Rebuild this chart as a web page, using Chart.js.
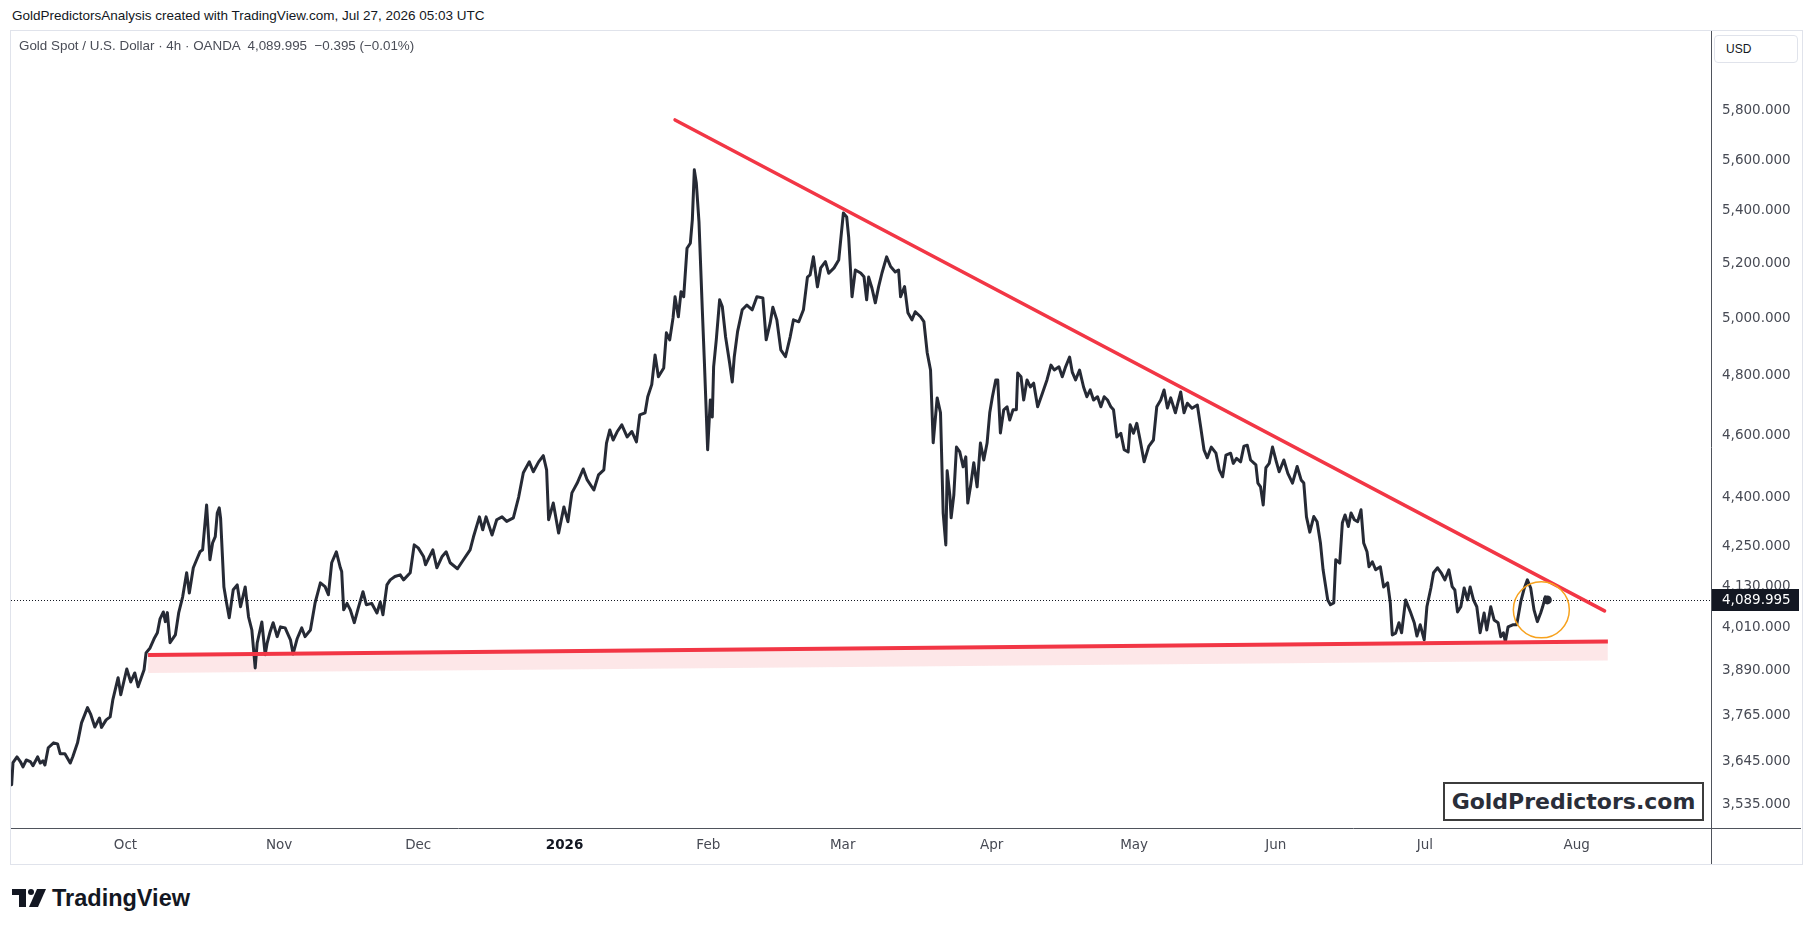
<!DOCTYPE html>
<html>
<head>
<meta charset="utf-8">
<script src="https://cdn.jsdelivr.net/npm/chart.js@4.4.1/dist/chart.umd.min.js"></script>
<style>
html,body{margin:0;padding:0;background:#fff;width:1814px;height:932px;overflow:hidden;}
#hdr{position:absolute;left:12px;top:8px;font:13.5px "Liberation Sans",Arial,sans-serif;color:#131722;line-height:16px;white-space:pre;}
#pane{position:absolute;left:10px;top:30px;width:1793px;height:835px;box-sizing:border-box;border:1px solid #e0e3eb;}
#cv{position:absolute;left:11px;top:31px;}
#legend{position:absolute;left:19px;top:38px;font:13.4px "Liberation Sans",Arial,sans-serif;color:#4a4d57;line-height:16px;white-space:pre;}
#usd{position:absolute;left:1714px;top:35px;width:84px;height:28px;box-sizing:border-box;border:1px solid #e0e3eb;border-radius:4px;background:#fff;font:12px "Liberation Sans",Arial,sans-serif;color:#131722;line-height:26px;padding-left:11px;}
#wm{position:absolute;left:1443px;top:782px;width:261px;height:39px;box-sizing:border-box;border:2px solid #3c3c3c;background:#fff;font:bold 22px "DejaVu Sans",sans-serif;color:#2a2e39;text-align:center;line-height:35px;}
#tv{position:absolute;left:12px;top:886px;height:24px;display:flex;align-items:center;color:#131722;}
#tv span{font:bold 23.5px "Liberation Sans",Arial,sans-serif;margin-left:6px;line-height:24px;}
</style>
</head>
<body>
<div id="hdr">GoldPredictorsAnalysis created with TradingView.com, Jul 27, 2026 05:03 UTC</div>
<div id="pane"></div>
<canvas id="cv" width="1790" height="833"></canvas>
<div id="legend">Gold Spot / U.S. Dollar · 4h · OANDA  4,089.995  −0.395 (−0.01%)</div>
<div id="usd">USD</div>
<div id="wm">GoldPredictors.com</div>
<div id="tv"><svg width="34" height="18" viewBox="0 0 34 18"><path d="M0 0h14v18H7V6H0z" fill="#131722"/><circle cx="19" cy="3" r="3" fill="#131722"/><path d="M25 0h9l-8 18h-9z" fill="#131722"/></svg><span>TradingView</span></div>
<script>
// x unit: trading sessions since the first bar shown (early Sep 2025)
const days = [0.1,0.3,0.9,1.4,1.8,2.3,2.9,3.3,4.0,4.4,4.8,5.1,5.6,6.4,7.0,7.4,8.1,8.9,9.3,10.0,10.6,11.5,12.0,12.6,13.3,13.6,14.3,14.9,15.3,16.1,16.5,17.4,18.0,18.6,19.1,20.0,20.3,20.9,21.5,22.0,22.4,22.9,23.2,23.5,23.9,24.7,25.2,25.8,26.4,26.8,27.4,27.9,28.4,28.8,29.4,29.9,30.3,30.7,31.0,31.3,31.5,32.0,32.4,32.8,33.4,34.0,34.5,35.2,35.7,36.2,36.7,37.0,37.7,38.2,38.5,38.9,39.4,40.0,40.5,41.2,42.0,42.4,43.0,43.7,44.2,45.0,45.7,46.5,47.2,47.7,48.2,48.9,49.5,49.7,50.0,50.5,51.0,51.6,52.2,52.9,53.4,54.2,55.0,55.5,55.9,56.5,57.0,57.7,58.5,59.0,60.0,60.6,61.2,62.0,62.3,63.4,64.0,64.8,65.4,66.0,67.1,68.0,69.0,69.5,70.4,70.9,71.4,72.3,73.0,73.8,74.5,75.5,76.3,77.0,77.9,78.5,79.3,80.0,80.5,80.8,81.5,82.3,83.1,83.7,84.3,85.1,86.0,86.6,87.6,88.3,89.1,89.5,90.0,90.5,91.1,91.8,92.6,93.3,94.0,94.5,95.3,95.7,96.3,96.8,97.3,98.1,98.5,99.0,99.5,99.8,100.3,100.7,101.1,101.6,102.1,102.4,102.7,103.0,103.4,103.9,104.2,104.7,105.1,105.4,105.6,106.0,106.5,106.9,107.4,108.0,108.4,108.7,109.2,109.9,110.6,111.4,112.1,113.0,113.5,114.1,114.5,115.1,115.7,116.4,117.1,117.6,118.4,119.1,119.7,120.1,120.6,121.2,121.7,122.4,122.9,123.7,124.4,125.1,125.6,125.9,126.4,126.9,127.7,128.2,128.6,128.9,129.4,129.9,130.4,130.9,131.6,132.2,132.9,133.4,133.7,134.3,134.8,135.4,135.9,136.7,137.2,137.7,138.2,138.6,139.2,139.7,140.1,140.5,140.7,141.1,141.3,141.7,142.1,142.6,143.1,143.5,143.8,144.2,144.7,145.2,145.7,146.2,146.7,147.1,147.5,148.0,148.3,148.7,149.2,149.7,150.1,150.6,151.1,151.3,151.8,152.2,152.7,153.2,153.7,154.3,155.0,155.7,156.3,156.8,157.5,158.0,158.5,159.1,159.5,160.0,160.6,161.2,161.7,162.2,162.7,163.3,163.8,164.3,164.8,165.3,165.7,166.2,166.8,167.3,167.9,168.2,168.7,169.2,169.7,170.3,171.0,171.7,172.2,172.8,173.3,173.8,174.3,175.0,175.8,176.3,176.8,177.5,178.3,178.8,179.3,179.8,180.4,181.1,181.6,182.1,182.6,183.3,183.7,184.2,184.8,185.3,185.8,186.3,187.1,187.4,187.8,188.2,188.6,189.1,189.6,190.1,190.6,191.3,191.9,192.6,193.3,193.9,194.3,194.7,195.2,195.8,196.3,196.8,197.2,197.9,198.3,198.8,199.1,199.7,200.1,200.5,201.0,201.4,201.9,202.4,202.9,203.3,203.8,204.1,204.6,205.1,205.8,206.3,206.9,207.3,207.6,208.1,208.6,209.0,209.6,210.3,210.9,211.3,211.8,212.4,212.8,213.4,213.8,214.4,215.0,215.5,216.1,216.6,217.0,217.4,217.9,218.4,218.9,219.3,219.8,220.3,220.8,221.4,221.8,222.4,222.9,223.5,223.9,224.3,224.6,225.0,225.7,226.3,226.9,227.4,227.9,228.4,228.9,229.4,229.9,230.2,230.6,230.9];
const prices = [3584,3641,3656,3644,3630,3648,3644,3633,3656,3640,3646,3635,3680,3693,3690,3664,3664,3640,3657,3693,3746,3787,3768,3735,3759,3734,3754,3762,3808,3869,3822,3893,3857,3882,3844,3891,3938,3952,3978,3995,4035,4055,4027,4053,3967,3989,4052,4099,4170,4110,4185,4209,4233,4239,4377,4209,4260,4279,4352,4368,4336,4128,4081,4038,4120,4134,4070,4128,4041,4003,3896,3966,4026,3933,3966,3995,4024,3984,4012,4009,3975,3935,3978,4009,3984,4003,4081,4140,4129,4105,4200,4233,4185,4174,4061,4080,4061,4024,4067,4114,4076,4080,4052,4084,4047,4134,4149,4159,4164,4149,4170,4254,4245,4219,4194,4239,4185,4219,4233,4200,4182,4209,4239,4278,4340,4300,4340,4284,4331,4340,4326,4337,4402,4479,4514,4482,4514,4534,4488,4331,4383,4290,4371,4325,4415,4446,4491,4456,4424,4472,4488,4575,4618,4585,4612,4635,4595,4613,4579,4668,4675,4729,4770,4872,4797,4827,4950,4925,5003,5079,5007,5097,5079,5258,5277,5366,5561,5509,5358,5032,4855,4553,4718,4661,4831,4925,5068,5044,4935,4845,4779,4865,4954,5032,5049,5032,5079,5075,4925,4985,5041,4996,4890,4866,4935,4996,4989,5032,5151,5159,5226,5115,5185,5208,5165,5185,5214,5392,5377,5299,5079,5177,5166,5152,5068,5151,5110,5057,5116,5166,5226,5190,5170,5177,5079,5116,5021,4996,5025,5007,4990,4880,4820,4576,4725,4675,4352,4254,4485,4408,4337,4408,4562,4546,4498,4530,4383,4434,4511,4434,4575,4520,4575,4675,4729,4786,4786,4608,4685,4695,4651,4685,4685,4810,4797,4718,4786,4762,4775,4695,4740,4786,4837,4820,4831,4797,4831,4865,4813,4786,4820,4762,4729,4752,4718,4729,4695,4729,4718,4695,4685,4595,4607,4553,4546,4635,4607,4640,4585,4514,4564,4585,4695,4718,4752,4691,4725,4675,4745,4675,4707,4690,4701,4628,4553,4527,4562,4542,4488,4466,4536,4542,4509,4525,4514,4565,4568,4520,4504,4446,4434,4377,4495,4509,4562,4520,4482,4520,4477,4446,4499,4456,4446,4340,4293,4341,4325,4260,4179,4090,4076,4081,4209,4199,4322,4346,4310,4352,4331,4325,4362,4260,4233,4188,4203,4179,4188,4128,4140,4081,3989,3994,4024,3995,4090,4056,4024,3986,4018,3975,4070,4125,4170,4185,4168,4149,4179,4129,4119,4055,4070,4125,4090,4128,4090,4070,3995,4052,4003,4070,4032,4024,3984,3995,3970,4012,4018,4018,4084,4122,4149,4125,4061,4027,4052,4070,4099,4089.995];

const monthTicks = [17.2, 40.3, 61.2, 83.2, 104.8, 125.0, 147.4, 168.8, 190.1, 212.5, 235.3];
const monthLabels = ['Oct','Nov','Dec','2026','Feb','Mar','Apr','May','Jun','Jul','Aug'];
const priceTicks = [5800,5600,5400,5200,5000,4800,4600,4400,4250,4130,4010,3890,3765,3645,3535];

const resistanceDays = [99.8, 239.5];
const resistancePrices = [5763, 4058];
const supportDays = [20.6, 240.0];
const supportPrices = [3932, 3970];
const bandLowPrices = [3882, 3917];

const lastPrice = 4089.995;
const circleDay = 230.0;
const circlePrice = 4061;

const xMin = 0, xMax = 255.5;
const yMin = 3475, yMax = 6141;

const fmt = v => Number(v).toLocaleString('en-US', {minimumFractionDigits: 3, maximumFractionDigits: 3});
const toPts = (xs, ys) => xs.map((x, i) => ({x: x, y: ys[i]}));

const pricePts = toPts(days, prices);
const lastIdx = pricePts.length - 1;

const overlay = {
  id: 'overlay',
  beforeDatasetsDraw(chart) {
    const {ctx, chartArea: a, scales: {y}} = chart;
    const py = Math.round(y.getPixelForValue(lastPrice)) + 0.5;
    ctx.save();
    ctx.setLineDash([1, 2]);
    ctx.strokeStyle = '#131722';
    ctx.lineWidth = 1;
    ctx.beginPath(); ctx.moveTo(a.left, py); ctx.lineTo(a.right, py); ctx.stroke();
    ctx.restore();
  },
  afterDatasetsDraw(chart) {
    const {ctx, scales: {x, y}} = chart;
    ctx.save();
    ctx.beginPath();
    ctx.arc(x.getPixelForValue(circleDay), y.getPixelForValue(circlePrice), 28, 0, Math.PI * 2);
    ctx.strokeStyle = '#f7a21e';
    ctx.lineWidth = 1.5;
    ctx.stroke();
    ctx.restore();
  },
  afterDraw(chart) {
    const {ctx, chartArea: a, scales: {y}} = chart;
    ctx.save();
    ctx.strokeStyle = '#4f535c';
    ctx.lineWidth = 1;
    ctx.beginPath();
    ctx.moveTo(0, a.bottom + 0.5); ctx.lineTo(chart.width, a.bottom + 0.5);
    ctx.moveTo(a.right + 0.5, 0); ctx.lineTo(a.right + 0.5, chart.height);
    ctx.stroke();
    const py = Math.round(y.getPixelForValue(lastPrice));
    ctx.fillStyle = '#131722';
    ctx.fillRect(a.right + 1, py - 11, 87, 22);
    ctx.fillStyle = '#ffffff';
    ctx.font = '13.5px "DejaVu Sans"';
    ctx.textBaseline = 'middle';
    ctx.textAlign = 'left';
    ctx.fillText(fmt(lastPrice), a.right + 11, py + 0.5);
    ctx.restore();
  }
};

new Chart(document.getElementById('cv').getContext('2d'), {
  type: 'line',
  data: {
    datasets: [
      {
        data: pricePts, borderColor: '#262a35', borderWidth: 3, tension: 0,
        borderJoinStyle: 'round', borderCapStyle: 'round',
        pointRadius: c => c.dataIndex === lastIdx ? 4.5 : 0,
        pointHoverRadius: 0,
        pointBackgroundColor: '#262a35', pointBorderWidth: 0,
        fill: false, order: 2
      },
      {
        data: toPts(resistanceDays, resistancePrices), borderColor: '#f23645', borderWidth: 3.5,
        pointRadius: 0, pointHoverRadius: 0, fill: false, order: 0, borderCapStyle: 'round'
      },
      {
        data: toPts(supportDays, supportPrices), borderColor: '#f23645', borderWidth: 4,
        pointRadius: 0, pointHoverRadius: 0, fill: false, order: 0
      },
      {
        data: toPts(supportDays, bandLowPrices), borderColor: 'rgba(0,0,0,0)', borderWidth: 0,
        backgroundColor: 'rgba(242,54,69,0.12)', pointRadius: 0, pointHoverRadius: 0, fill: 2, order: 3
      }
    ]
  },
  options: {
    responsive: false,
    animation: false,
    devicePixelRatio: 1,
    events: [],
    layout: {padding: 0, autoPadding: false},
    plugins: {legend: {display: false}, tooltip: {enabled: false}},
    scales: {
      x: {
        type: 'linear', min: xMin, max: xMax,
        grid: {display: false, drawTicks: false},
        border: {display: false},
        afterBuildTicks: s => { s.ticks = monthTicks.map(v => ({value: v})); },
        afterFit: s => { s.height = 36; s.paddingLeft = 0; s.paddingRight = 0; },
        ticks: {
          autoSkip: false, maxRotation: 0, minRotation: 0, padding: 9,
          callback: (v, i) => monthLabels[i],
          font: c => ({family: 'DejaVu Sans', size: 13.5, weight: monthLabels[c.index] === '2026' ? 'bold' : 'normal'}),
          color: c => monthLabels[c.index] === '2026' ? '#131722' : '#474a54'
        }
      },
      y: {
        type: 'logarithmic', position: 'right', min: yMin, max: yMax,
        grid: {display: false, drawTicks: false},
        border: {display: false},
        afterBuildTicks: s => { s.ticks = priceTicks.map(v => ({value: v})); },
        afterFit: s => { s.width = 90; s.paddingTop = 0; s.paddingBottom = 0; },
        ticks: {
          autoSkip: false, padding: 11, crossAlign: 'near',
          callback: v => fmt(v),
          font: {family: 'DejaVu Sans', size: 13.5},
          color: '#474a54'
        }
      }
    }
  },
  plugins: [overlay]
});
</script>
</body>
</html>
